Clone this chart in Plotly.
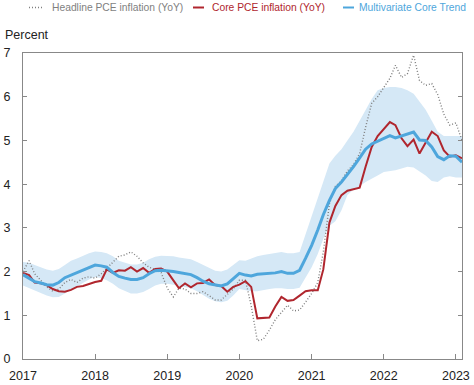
import plotly.graph_objects as go
import pandas as pd

dates = pd.date_range("2017-01-01", "2023-02-01", freq="MS").strftime("%Y-%m-%d").tolist()

headline = [
    2.0, 2.25, 1.95, 1.8, 1.65, 1.55, 1.6, 1.75, 1.82, 1.75, 1.85, 1.88,
    1.85, 1.95, 2.08, 2.22, 2.35, 2.38, 2.45, 2.35, 2.2, 2.1, 2.05, 1.98,
    1.62, 1.42, 1.62, 1.6, 1.5, 1.5, 1.54, 1.45, 1.35, 1.35, 1.48, 1.6,
    1.8, 1.8, 1.22, 0.42, 0.45, 0.66, 0.9, 1.07, 1.23, 1.1, 1.12, 1.3,
    1.5, 1.75, 2.45, 3.55, 3.95, 4.08, 4.3, 4.45, 4.7, 5.3, 5.85, 6.0,
    6.2, 6.42, 6.72, 6.44, 6.53, 6.95, 6.37, 6.26, 6.3, 6.05, 5.6, 5.35,
    5.4, 5.0,
]

core = [
    1.97, 1.92, 1.75, 1.73, 1.69, 1.6, 1.55, 1.54, 1.58, 1.65, 1.67, 1.72,
    1.76, 1.79, 2.05, 1.97, 2.03, 2.02, 2.1, 2.0, 2.08, 1.97, 2.06, 2.07,
    2.0, 1.8, 1.62, 1.73, 1.64, 1.73, 1.74, 1.82, 1.69, 1.67, 1.54, 1.65,
    1.7, 1.78, 1.65, 0.93, 0.94, 0.95, 1.2, 1.42, 1.33, 1.35, 1.45, 1.55,
    1.57, 1.57, 2.05, 3.12, 3.5, 3.75, 3.85, 3.88, 3.92, 4.4, 4.85, 5.1,
    5.25, 5.42, 5.35, 5.05, 4.87, 5.02, 4.7, 4.95, 5.2, 5.1, 4.77, 4.63,
    4.66, 4.59,
]

trend = [
    1.93, 1.85, 1.77, 1.74, 1.7, 1.69, 1.75, 1.86, 1.92, 1.98, 2.04, 2.1,
    2.15, 2.13, 2.1, 1.98, 1.89, 1.85, 1.82, 1.82, 1.86, 1.95, 2.02, 2.03,
    2.02, 2.0, 1.98, 1.96, 1.93, 1.86, 1.78, 1.72, 1.69, 1.67, 1.72, 1.83,
    1.96, 1.92, 1.9, 1.94, 1.95, 1.95, 1.97, 2.0, 1.96, 1.96, 2.03, 2.3,
    2.6, 2.95, 3.3, 3.63, 3.9, 4.05, 4.22, 4.4, 4.6, 4.8, 4.92, 4.98,
    5.05, 5.11, 5.06, 5.1, 5.15, 5.19, 5.01, 5.0, 4.85, 4.63, 4.56, 4.65,
    4.64, 4.5,
]

upper = [
    2.22, 2.2, 2.15, 2.1, 2.05, 2.02, 2.06, 2.15, 2.25, 2.3, 2.36, 2.42,
    2.46, 2.45, 2.42, 2.35, 2.25, 2.2, 2.16, 2.16, 2.2, 2.28, 2.34, 2.36,
    2.36, 2.35, 2.32, 2.3, 2.28, 2.22, 2.15, 2.08, 2.02, 2.0, 2.05, 2.15,
    2.26, 2.25, 2.3, 2.35, 2.38, 2.4, 2.42, 2.45, 2.42, 2.42, 2.45, 2.85,
    3.25, 3.65, 4.05, 4.47, 4.65, 4.8, 5.0, 5.2, 5.45, 5.7, 5.95, 6.15,
    6.2, 6.22, 6.22, 6.2, 6.15, 6.07, 5.9, 5.7, 5.45, 5.2, 5.1, 5.1,
    5.1, 5.1,
]

lower = [
    1.68, 1.62, 1.55, 1.5, 1.45, 1.41, 1.42, 1.5, 1.6, 1.66, 1.74, 1.82,
    1.88, 1.85, 1.8, 1.72, 1.62, 1.55, 1.5, 1.5, 1.53, 1.6, 1.68, 1.72,
    1.72, 1.7, 1.68, 1.65, 1.62, 1.55, 1.46, 1.38, 1.32, 1.3, 1.33, 1.45,
    1.6, 1.58, 1.55, 1.55, 1.58, 1.6, 1.62, 1.62, 1.6, 1.6, 1.63, 1.85,
    2.1, 2.4, 2.75, 3.05, 3.15, 3.4, 3.75, 3.88, 3.95, 4.05, 4.12, 4.2,
    4.28, 4.3, 4.32, 4.36, 4.4, 4.38, 4.3, 4.2, 4.07, 4.05, 4.15, 4.18,
    4.15, 4.15,
]

year_ticks = ["2017-01-01", "2018-01-01", "2019-01-01", "2020-01-01",
              "2021-01-01", "2022-01-01", "2023-01-01"]
year_labels = ["2017", "2018", "2019", "2020", "2021", "2022", "2023"]
y_ticks = [0, 1, 2, 3, 4, 5, 6, 7]

legend_names = ["Headline PCE inflation (YoY)", "Core PCE inflation (YoY)",
                "Multivariate Core Trend"]

GREY = "#7f7f7f"
RED = "#b0262e"
BLUE = "#4ea6dc"
BAND = "#d5e8f6"
FONT = "Liberation Sans, Arial, sans-serif"

fig = go.Figure()
fig.add_trace(go.Scatter(x=dates, y=lower, mode="lines", line=dict(width=0),
                         showlegend=False, hoverinfo="skip"))
fig.add_trace(go.Scatter(x=dates, y=upper, mode="lines", line=dict(width=0),
                         fill="tonexty", fillcolor=BAND, showlegend=False,
                         hoverinfo="skip"))
fig.add_trace(go.Scatter(x=dates, y=headline, mode="lines", name=legend_names[0],
                         line=dict(color=GREY, width=1.4, dash="1px,2px")))
fig.add_trace(go.Scatter(x=dates, y=core, mode="lines", name=legend_names[1],
                         line=dict(color=RED, width=2)))
fig.add_trace(go.Scatter(x=dates, y=trend, mode="lines", name=legend_names[2],
                         line=dict(color=BLUE, width=3)))

W, H = 474, 385
L, R, T, B = 23, 12, 53, 26
pw, ph = W - L - R, H - T - B


def px(X):
    return (X - L) / pw


def py(Y):
    return (H - B - Y) / ph


# Legend built from annotations + short line samples
leg = [
    (29, 42, 50, legend_names[0], GREY, "1px,2px", 1.4),
    (193, 204, 210, legend_names[1], RED, "solid", 2),
    (343, 354, 357, legend_names[2], BLUE, "solid", 2),
]
for x0, x1, tx, name, col, dash, w in leg:
    fig.add_shape(type="line", xref="paper", yref="paper",
                  x0=px(x0), x1=px(x1), y0=py(7.5), y1=py(7.5),
                  line=dict(color=col, width=w, dash=dash))
    fig.add_annotation(xref="paper", yref="paper", x=px(tx), y=py(7.5),
                       xanchor="left", yanchor="middle", showarrow=False,
                       text=name, font=dict(size=10.3, color=col, family=FONT))

fig.add_annotation(xref="paper", yref="paper", x=px(3), y=py(35),
                   xanchor="left", yanchor="middle", showarrow=False,
                   text="Percent", font=dict(size=12.5, color="#222", family=FONT))

fig.update_layout(
    width=W, height=H,
    margin=dict(l=L, r=R, t=T, b=B, autoexpand=False),
    paper_bgcolor="white", plot_bgcolor="white",
    showlegend=False,
    font=dict(family=FONT, size=12.5, color="#222"),
)
fig.update_xaxes(type="date", range=["2017-01-01", "2023-02-01"],
                 tickvals=year_ticks, ticktext=year_labels,
                 ticks="inside", ticklen=5, tickcolor="#888",
                 showline=True, linecolor="#888", linewidth=1, mirror=True,
                 showgrid=False, zeroline=False, ticklabelstandoff=5,
                 automargin=False,
                 tickfont=dict(size=12.5, color="#222"))
fig.update_yaxes(range=[0, 7], tickvals=y_ticks,
                 ticks="inside", ticklen=4, tickcolor="#888",
                 showline=True, linecolor="#888", linewidth=1, mirror="ticks",
                 showgrid=False, zeroline=False, ticklabelstandoff=9,
                 automargin=False,
                 tickfont=dict(size=12.5, color="#222"))

fig.write_html("out.html",
               config={"displayModeBar": False},
               post_script="document.body.style.margin='0';"
                           "document.body.style.overflow='hidden';")
